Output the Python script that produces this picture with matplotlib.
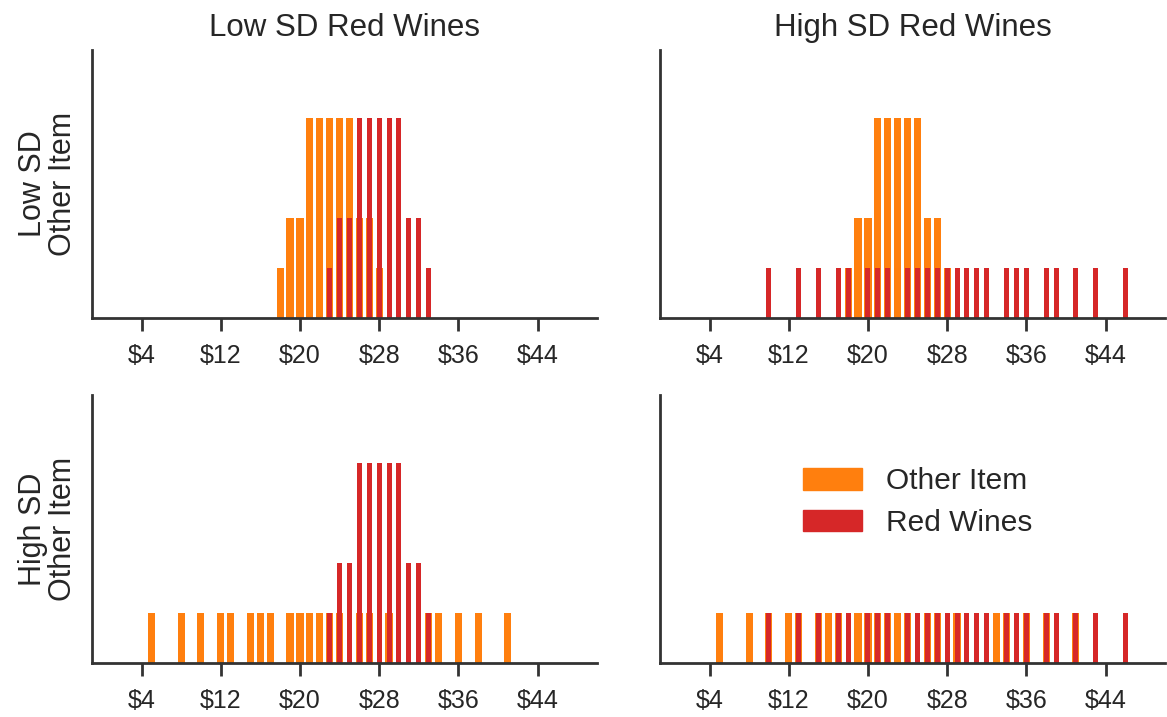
import matplotlib
matplotlib.use("Agg")
import matplotlib.pyplot as plt
import matplotlib.patches as mpatches
import numpy as np
import seaborn as sns

# prices drawn for each condition (dollars)
low_other_prices = [18, 19, 20, 21, 22, 23, 24, 25, 26, 27, 28]
low_red_prices = [23, 24, 25, 26, 27, 28, 29, 30, 31, 32, 33]
low_counts = [1, 2, 2, 4, 4, 4, 4, 4, 2, 2, 1]

high_other_prices = [5, 8, 10, 12, 13, 15, 16, 17, 19, 20, 21, 22, 23, 24,
                     26, 27, 29, 33, 34, 36, 38, 41]
high_red_prices = [10, 13, 15, 17, 18, 20, 21, 22, 24, 25, 26, 27, 28, 29,
                   30, 31, 32, 34, 35, 36, 38, 39, 41, 43, 46]

col_titles = ['Low SD Red Wines', 'High SD Red Wines']
row_labels = ['Low SD\nOther Item', 'High SD\nOther Item']
xticks = [4, 12, 20, 28, 36, 44]

other_color = '#ff7f0e'
red_color = '#d62728'

sns.set_style('ticks')
plt.rcParams['font.family'] = ['Liberation Sans', 'DejaVu Sans']
plt.rcParams['text.color'] = '#262626'
plt.rcParams['axes.labelcolor'] = '#262626'

other_samples = {
    'low': np.repeat(low_other_prices, low_counts),
    'high': np.array(high_other_prices),
}
red_samples = {
    'low': np.repeat(low_red_prices, low_counts),
    'high': np.array(high_red_prices),
}

fig = plt.figure(figsize=(11.67, 7.17), dpi=100)
W, H = 1167, 717
lefts = [92, 660]
width_px = 505
bottoms = [318, 663]
height_px = 268

bins = np.arange(-0.5, 51.5, 1)
axes = {}
for r, row in enumerate(['low', 'high']):
    for c, col in enumerate(['low', 'high']):
        ax = fig.add_axes([lefts[c] / W, 1 - bottoms[r] / H,
                           width_px / W, height_px / H])
        ax.hist(other_samples[row], bins=bins, rwidth=0.72, color=other_color,
                edgecolor='none', linewidth=0)
        ax.hist(red_samples[col], bins=bins, rwidth=0.5, color=red_color,
                edgecolor='none', linewidth=0)
        ax.set_xlim(-1, 50)
        ax.set_ylim(0, 5.35)
        ax.set_yticks([])
        ax.set_xticks(xticks)
        ax.set_xticklabels(['$%d' % t for t in xticks])
        ax.tick_params(axis='x', labelsize=18, length=9, width=2,
                       color='#333333', labelcolor='#262626', pad=10)
        for s in ['left', 'bottom']:
            ax.spines[s].set_linewidth(2)
            ax.spines[s].set_color('#333333')
        sns.despine(ax=ax)
        if r == 0:
            ax.set_title(col_titles[c], fontsize=22.5, pad=10)
        if c == 0:
            ax.set_ylabel(row_labels[r], fontsize=22, labelpad=10,
                          linespacing=1.0)
        axes[(r, c)] = ax

handles = [mpatches.Patch(color=other_color, label='Other Item'),
           mpatches.Patch(color=red_color, label='Red Wines')]
axes[(1, 1)].legend(handles=handles, loc='center', bbox_to_anchor=(0.51, 0.6),
                    frameon=False, fontsize=21.5, handlelength=2.0,
                    handleheight=0.75, handletextpad=0.8, labelspacing=0.45)

fig.savefig('out.png', dpi=100)
